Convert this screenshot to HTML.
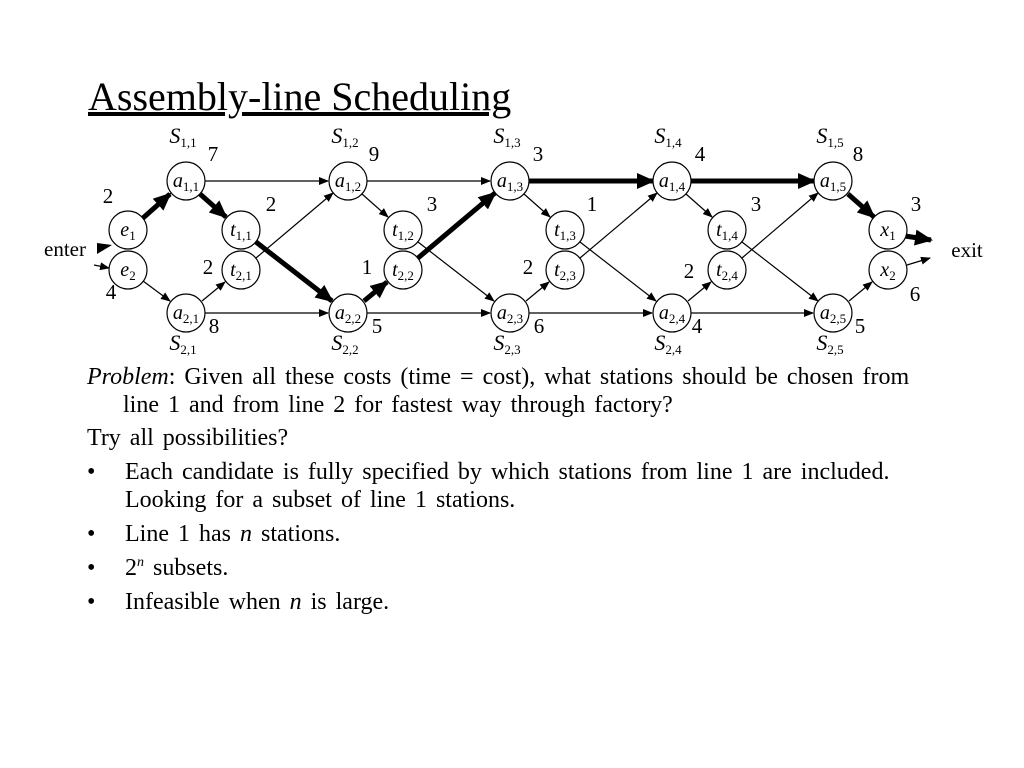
<!DOCTYPE html>
<html><head><meta charset="utf-8"><style>
body{margin:0;background:#fff;width:1024px;height:768px;overflow:hidden;font-family:"Liberation Serif",serif;}
svg{position:absolute;left:0;top:0}
.n{font-family:"Liberation Serif",serif;font-style:italic;font-size:20px;text-anchor:middle}
.s{font-style:normal;font-size:13px}
.w{font-family:"Liberation Serif",serif;font-size:21px;text-anchor:middle}
.S{font-family:"Liberation Serif",serif;font-style:italic;font-size:22px;text-anchor:middle}
.body{position:absolute;left:87px;top:363px;width:860px;font-size:24px;line-height:28px;color:#000;word-spacing:3px}
.body p{margin:0}
.body p.bl{padding-left:38px;position:relative;margin-top:6px}
.bl span.b{position:absolute;left:0}
</style></head><body>
<div style="position:absolute;left:88px;top:74px;font-size:40px;line-height:46px;text-decoration:underline;">Assembly-line Scheduling</div>
<svg width="1024" height="768">
<defs>
<marker id="a" markerWidth="10" markerHeight="8" refX="9" refY="4" orient="auto" markerUnits="userSpaceOnUse"><path d="M0,0 L10,4 L0,8z"/></marker>
<marker id="b" markerWidth="18" markerHeight="16" refX="16" refY="8" orient="auto" markerUnits="userSpaceOnUse"><path d="M0,0 L18,8 L0,16z"/></marker>
</defs>
<g stroke="#000" stroke-width="1.2" fill="none" marker-end="url(#a)">
<line x1="143" y1="281" x2="170" y2="301"/>
<line x1="202" y1="301" x2="225" y2="282"/>
<line x1="205" y1="181" x2="328" y2="181"/>
<line x1="205" y1="313" x2="328" y2="313"/>
<line x1="256" y1="258" x2="333" y2="193"/>
<line x1="362" y1="194" x2="388" y2="217"/>
<line x1="418" y1="242" x2="494" y2="301"/>
<line x1="367" y1="181" x2="490" y2="181"/>
<line x1="367" y1="313" x2="490" y2="313"/>
<line x1="524" y1="194" x2="550" y2="217"/>
<line x1="580" y1="242" x2="656" y2="301"/>
<line x1="526" y1="301" x2="549" y2="282"/>
<line x1="580" y1="258" x2="657" y2="193"/>
<line x1="529" y1="313" x2="652" y2="313"/>
<line x1="686" y1="194" x2="712" y2="217"/>
<line x1="742" y1="242" x2="818" y2="301"/>
<line x1="688" y1="301" x2="711" y2="282"/>
<line x1="742" y1="258" x2="818" y2="193"/>
<line x1="691" y1="313" x2="813" y2="313"/>
<line x1="849" y1="301" x2="872" y2="282"/>
<line x1="907" y1="265" x2="930" y2="258"/>
<line x1="94" y1="265" x2="109" y2="268"/>
</g>
<g stroke="#000" stroke-width="5" fill="none" marker-end="url(#b)">
<line x1="143" y1="218" x2="170" y2="194"/>
<line x1="200" y1="194" x2="226" y2="217"/>
<line x1="256" y1="242" x2="332" y2="301"/>
<line x1="364" y1="301" x2="387" y2="282"/>
<line x1="418" y1="258" x2="495" y2="193"/>
<line x1="529" y1="181" x2="653" y2="181"/>
<line x1="691" y1="181" x2="814" y2="181"/>
<line x1="848" y1="194" x2="874" y2="217"/>
<line x1="905" y1="236" x2="931" y2="240"/>
</g>
<polygon points="97,243 97,254 112,245" fill="#000"/>
<g fill="#fff" stroke="#000" stroke-width="1.2">
<circle cx="128" cy="230" r="19"/><circle cx="128" cy="270" r="19"/>
<circle cx="186" cy="181" r="19"/><circle cx="186" cy="313" r="19"/>
<circle cx="241" cy="230" r="19"/><circle cx="241" cy="270" r="19"/>
<circle cx="348" cy="181" r="19"/><circle cx="348" cy="313" r="19"/>
<circle cx="403" cy="230" r="19"/><circle cx="403" cy="270" r="19"/>
<circle cx="510" cy="181" r="19"/><circle cx="510" cy="313" r="19"/>
<circle cx="565" cy="230" r="19"/><circle cx="565" cy="270" r="19"/>
<circle cx="672" cy="181" r="19"/><circle cx="672" cy="313" r="19"/>
<circle cx="727" cy="230" r="19"/><circle cx="727" cy="270" r="19"/>
<circle cx="833" cy="181" r="19"/><circle cx="833" cy="313" r="19"/>
<circle cx="888" cy="230" r="19"/><circle cx="888" cy="270" r="19"/>
</g>
<g>
<text class="n" x="128" y="236">e<tspan class="s" dy="4">1</tspan></text>
<text class="n" x="128" y="276">e<tspan class="s" dy="4">2</tspan></text>
<text class="n" x="186" y="187">a<tspan class="s" dy="4">1,1</tspan></text>
<text class="n" x="186" y="319">a<tspan class="s" dy="4">2,1</tspan></text>
<text class="n" x="241" y="236">t<tspan class="s" dy="4">1,1</tspan></text>
<text class="n" x="241" y="276">t<tspan class="s" dy="4">2,1</tspan></text>
<text class="n" x="348" y="187">a<tspan class="s" dy="4">1,2</tspan></text>
<text class="n" x="348" y="319">a<tspan class="s" dy="4">2,2</tspan></text>
<text class="n" x="403" y="236">t<tspan class="s" dy="4">1,2</tspan></text>
<text class="n" x="403" y="276">t<tspan class="s" dy="4">2,2</tspan></text>
<text class="n" x="510" y="187">a<tspan class="s" dy="4">1,3</tspan></text>
<text class="n" x="510" y="319">a<tspan class="s" dy="4">2,3</tspan></text>
<text class="n" x="565" y="236">t<tspan class="s" dy="4">1,3</tspan></text>
<text class="n" x="565" y="276">t<tspan class="s" dy="4">2,3</tspan></text>
<text class="n" x="672" y="187">a<tspan class="s" dy="4">1,4</tspan></text>
<text class="n" x="672" y="319">a<tspan class="s" dy="4">2,4</tspan></text>
<text class="n" x="727" y="236">t<tspan class="s" dy="4">1,4</tspan></text>
<text class="n" x="727" y="276">t<tspan class="s" dy="4">2,4</tspan></text>
<text class="n" x="833" y="187">a<tspan class="s" dy="4">1,5</tspan></text>
<text class="n" x="833" y="319">a<tspan class="s" dy="4">2,5</tspan></text>
<text class="n" x="888" y="236">x<tspan class="s" dy="4">1</tspan></text>
<text class="n" x="888" y="276">x<tspan class="s" dy="4">2</tspan></text>
</g>
<g>
<text class="S" x="183" y="143">S<tspan class="s" dy="4">1,1</tspan></text>
<text class="S" x="345" y="143">S<tspan class="s" dy="4">1,2</tspan></text>
<text class="S" x="507" y="143">S<tspan class="s" dy="4">1,3</tspan></text>
<text class="S" x="668" y="143">S<tspan class="s" dy="4">1,4</tspan></text>
<text class="S" x="830" y="143">S<tspan class="s" dy="4">1,5</tspan></text>
<text class="S" x="183" y="350">S<tspan class="s" dy="4">2,1</tspan></text>
<text class="S" x="345" y="350">S<tspan class="s" dy="4">2,2</tspan></text>
<text class="S" x="507" y="350">S<tspan class="s" dy="4">2,3</tspan></text>
<text class="S" x="668" y="350">S<tspan class="s" dy="4">2,4</tspan></text>
<text class="S" x="830" y="350">S<tspan class="s" dy="4">2,5</tspan></text>
</g>
<g>
<text class="w" x="213" y="161">7</text><text class="w" x="374" y="161">9</text><text class="w" x="538" y="161">3</text><text class="w" x="700" y="161">4</text><text class="w" x="858" y="161">8</text>
<text class="w" x="108" y="203">2</text><text class="w" x="111" y="299">4</text>
<text class="w" x="271" y="211">2</text><text class="w" x="432" y="211">3</text><text class="w" x="592" y="211">1</text><text class="w" x="756" y="211">3</text><text class="w" x="916" y="211">3</text>
<text class="w" x="208" y="274">2</text><text class="w" x="367" y="274">1</text><text class="w" x="528" y="274">2</text><text class="w" x="689" y="278">2</text><text class="w" x="915" y="301">6</text>
<text class="w" x="214" y="333">8</text><text class="w" x="377" y="333">5</text><text class="w" x="539" y="333">6</text><text class="w" x="697" y="333">4</text><text class="w" x="860" y="333">5</text>
<text class="w" x="65" y="256">enter</text><text class="w" x="967" y="257">exit</text>
</g>
</svg>
<div class="body">
<p style="padding-left:36px;text-indent:-36px"><i>Problem</i>: Given all these costs (time = cost), what stations should be chosen from line 1 and from line 2 for fastest way through factory?</p>
<p style="margin-top:5px">Try all possibilities?</p>
<p class="bl"><span class="b">•</span>Each candidate is fully specified by which stations from line 1 are included. Looking for a subset of line 1 stations.</p>
<p class="bl"><span class="b">•</span>Line 1 has <i>n</i> stations.</p>
<p class="bl"><span class="b">•</span>2<sup style="font-size:14px;font-style:italic;line-height:0">n</sup> subsets.</p>
<p class="bl"><span class="b">•</span>Infeasible when <i>n</i> is large.</p>
</div>
</body></html>
